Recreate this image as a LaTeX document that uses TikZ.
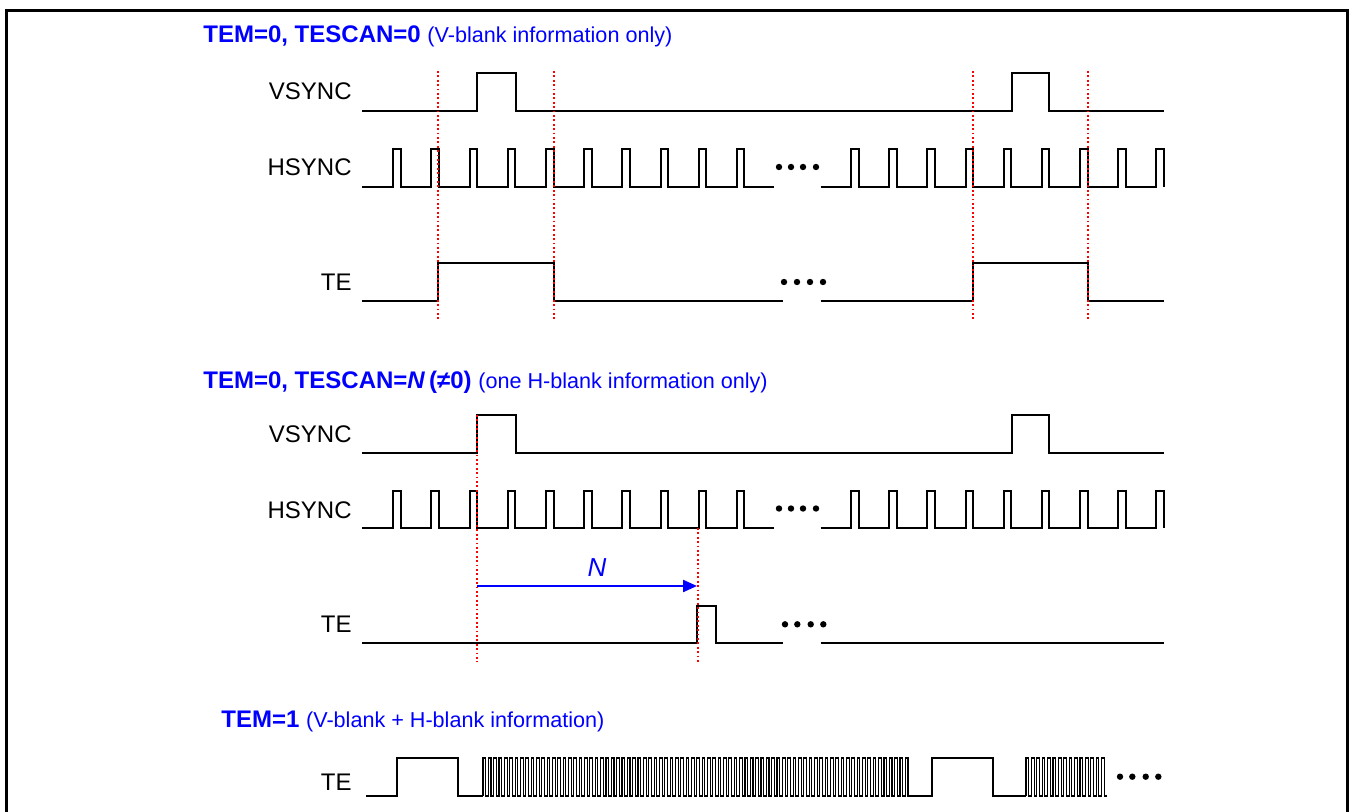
\documentclass[tikz,border=0pt]{standalone}
\usepackage{fontspec}
\setmainfont{Liberation Sans}
\usetikzlibrary{arrows.meta}
\definecolor{TitleBlue}{HTML}{0000FF}
\definecolor{MarkRed}{HTML}{FF0000}
\newcommand{\subtitle}{\fontsize{10.8}{13}\selectfont\mdseries}
% VSYNC row: low y, high y
\newcommand{\vsyncrow}[2]{%
  \draw[wave] (362,#1) -- (476.7,#1) |- (515.7,#2) |- (1011.7,#1)
    |- (1049.3,#2) |- (1164,#1);
}
% HSYNC row: low y, high y, dots y
\newcommand{\hsyncrow}[3]{%
  \draw[wave] (362,#1) foreach \k in {0,...,9}{
      -- ({393.3+38.17*\k},#1) -- ({393.3+38.17*\k},#2)
      -- ({400.9+38.17*\k},#2) -- ({400.9+38.17*\k},#1)} -- (774.3,#1);
  \draw[wave] (820.7,#1) foreach \k in {0,...,8}{
      -- ({851+38.17*\k},#1) -- ({851+38.17*\k},#2)
      -- ({858.6+38.17*\k},#2) -- ({858.6+38.17*\k},#1)};
  \foreach \d in {779,791,803,816} \fill (\d,#3) circle (1.6pt);
}
% TE burst: start x, count, period
\newcommand{\teburst}[3]{%
  \draw[burst] (#1,796) foreach \k in {1,...,#2}{
      -- ++(0,-38) -- ++(#3/2,0) -- ++(0,38) -- ++(#3/2,0)};
}

\begin{document}
\begin{tikzpicture}[x=0.5pt,y=-0.5pt,
    wave/.style={line width=1pt,line join=miter},
    burst/.style={line width=0.55pt,line join=miter},
    marker/.style={MarkRed,line width=0.9pt,dash pattern=on 0.9pt off 1.3pt},
    siglabel/.style={anchor=east,inner sep=0pt,font=\fontsize{12}{14}\selectfont},
    title/.style={anchor=base west,inner sep=0pt,text=TitleBlue,
                  font=\fontsize{12}{14}\selectfont\bfseries},
    narrow/.style={TitleBlue,line width=1.1pt,-{Triangle[length=7pt,width=6pt]}},
    nlabel/.style={inner sep=0pt,text=TitleBlue,font=\fontsize{13}{15}\selectfont\itshape}]
  \useasboundingbox (0,0) rectangle (1353,812);
  \clip (0,0) rectangle (1353,812);
  \draw[line width=1.5pt] (6,11) rectangle (1347,850);

  % TEM=0, TESCAN=0
  \node[title] (title1) at (203,42.5) {TEM=0, TESCAN=0 {\subtitle (V-blank information only)}};
  \node[siglabel] (vsync1) at (352,91) {VSYNC};
  \node[siglabel] (hsync1) at (352,167) {HSYNC};
  \node[siglabel] (te1) at (352,282) {TE};
  \vsyncrow{111}{72.7}
  \hsyncrow{186.7}{149}{167}
  \draw[wave] (362,301) -- (438.3,301) |- (553.7,262.7) |- (782.7,301);
  \draw[wave] (820.7,301) -- (972.7,301) |- (1087.7,262.7) |- (1164,301);
  \foreach \d in {784,797,810,823} \fill (\d,282) circle (1.6pt);
  \foreach \x in {438.3,553.7,972.7,1087.7} \draw[marker] (\x,71) -- (\x,321);

  % TEM=0, TESCAN=N
  \node[title] (title2) at (203,388) {TEM=0, TESCAN=\textit{N}\,(≠0) {\subtitle (one H-blank information only)}};
  \node[siglabel] (vsync2) at (352,434) {VSYNC};
  \node[siglabel] (hsync2) at (352,510) {HSYNC};
  \node[siglabel] (te2) at (352,624) {TE};
  \vsyncrow{452.7}{415}
  \hsyncrow{528.3}{490.7}{508.5}
  \draw[wave] (362,643.3) -- (696.7,643.3) |- (715.7,605.7) |- (782.7,643.3);
  \draw[wave] (820.7,643.3) -- (1164,643.3);
  \foreach \d in {785,797.3,810.7,823.3} \fill (\d,624.3) circle (1.6pt);
  \draw[marker] (477,415) -- (477,662);
  \draw[marker] (698,528) -- (698,662);
  \coordinate (nfrom) at (477,586);
  \coordinate (nto) at (697,586);
  \draw[narrow] (nfrom) -- (nto);
  \node[nlabel] (nname) at (597,568) {N};

  % TEM=1
  \node[title] (title3) at (221,727.5) {TEM=1 {\subtitle (V-blank + H-blank information)}};
  \node[siglabel] (te3) at (352,782) {TE};
  \draw[wave] (366,796) -- (396.6,796) |- (458.3,758) |- (483,796);
  \teburst{483}{80}{5.346}
  \draw[wave] (910.7,796) -- (931.7,796) |- (992.7,758) |- (1026,796);
  \teburst{1026}{15}{5.4}
  \foreach \d in {1120,1132.3,1145.7,1158.3} \fill (\d,776.7) circle (1.6pt);
\end{tikzpicture}
\end{document}
